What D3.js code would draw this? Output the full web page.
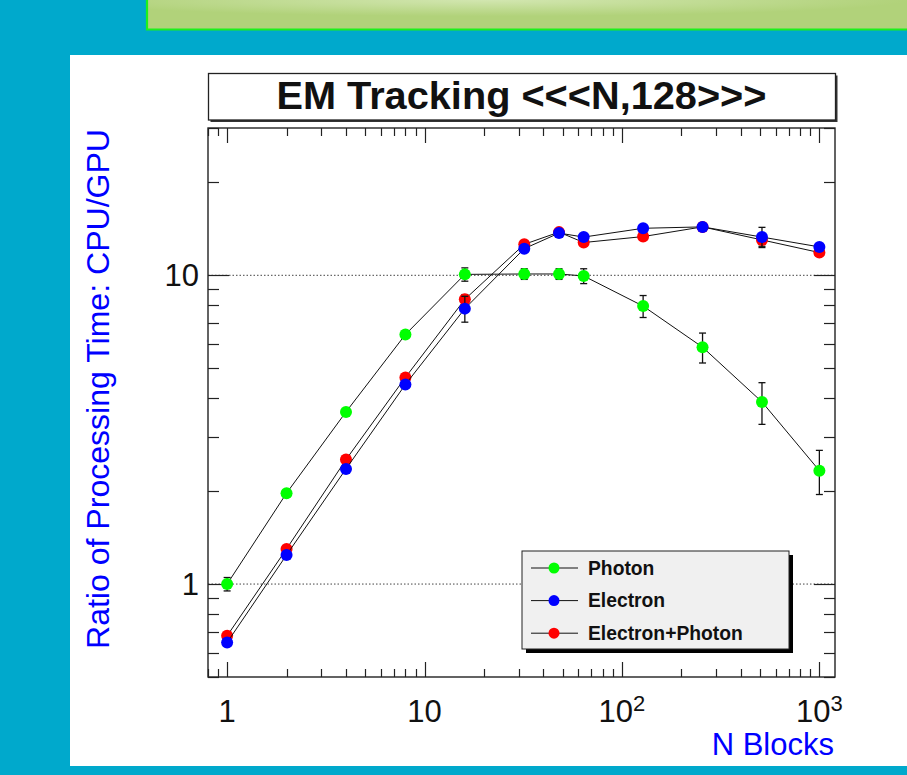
<!DOCTYPE html>
<html>
<head>
<meta charset="utf-8">
<script src="https://cdn.jsdelivr.net/npm/d3@7"></script>
<style>
  html, body { margin: 0; padding: 0; background: #00a9cc; }
  svg { display: block; }
  text { font-family: "Liberation Sans", Arial, Helvetica, sans-serif; }
</style>
</head>
<body>
<svg id="chart" width="907" height="775"></svg>
<script>
// ---------------- data ----------------
const nBlocks = [1, 2, 4, 8, 16, 32, 48, 64, 128, 256, 512, 1000];
const photon      = [1.0, 1.97, 3.61, 6.43, 10.07, 10.1, 10.1, 9.95, 7.95, 5.85, 3.89, 2.33];
const photonErr   = [0.05, 0.05, 0.08, 0.12, 0.5, 0.4, 0.4, 0.55, 0.65, 0.65, 0.6, 0.38];
const electron    = [0.647, 1.242, 2.36, 4.43, 7.8, 12.2, 13.7, 13.3, 14.2, 14.35, 13.3, 12.36];
const electronErr = [0.01, 0.02, 0.04, 0.1, 0.75, 0.2, 0.3, 0.3, 0.3, 0.3, 1.0, 0.3];
const eplusg      = [0.68, 1.30, 2.53, 4.67, 8.36, 12.6, 13.8, 12.77, 13.35, 14.35, 13.02, 11.85];
const eplusgErr   = [0.01, 0.02, 0.05, 0.1, 0.3, 0.2, 0.3, 0.3, 0.3, 0.3, 0.6, 0.3];
const seriesNames = ["Photon", "Electron", "Electron+Photon"];
const seriesColors = ["#00ff00", "#0000ff", "#ff0000"];
const xMajorTicks = [1, 10, 100, 1000];
const xTickLabels = [["1", ""], ["10", ""], ["10", "2"], ["10", "3"]];
const yMajorTicks = [1, 10];
const yTickLabels = ["1", "10"];
const chartTitle = "EM Tracking <<<N,128>>>";
const xTitle = "N Blocks";
const yTitle = "Ratio of Processing Time: CPU/GPU";

// ---------------- layout ----------------
const svg = d3.select("#chart");
const W = 907, H = 775;
const frame = { left: 208, right: 835, top: 128, bottom: 677 };
const x = d3.scaleLog().domain([0.8, 1200]).range([frame.left, frame.right]);
const y = d3.scaleLog().domain([0.5, 30]).range([frame.bottom, frame.top]);

// background
svg.append("rect").attr("width", W).attr("height", H).attr("fill", "#00a9cc");
const defs = svg.append("defs");
const grad = defs.append("radialGradient").attr("id", "barGrad")
  .attr("cx", "0.45").attr("cy", "0").attr("r", "0.55");
grad.append("stop").attr("offset", "0").attr("stop-color", "#d2e6b0");
grad.append("stop").attr("offset", "1").attr("stop-color", "#b1d27a");
svg.append("rect").attr("x", 147).attr("y", 0).attr("width", W - 147).attr("height", 29.5)
  .attr("fill", "url(#barGrad)");
svg.append("path").attr("d", `M147,0 V29.5 H${W}`).attr("fill", "none")
  .attr("stroke", "#1cf01c").attr("stroke-width", 2.2);
svg.append("rect").attr("x", 70).attr("y", 55).attr("width", W - 70).attr("height", 711)
  .attr("fill", "#ffffff");

// title box
svg.append("rect").attr("x", 210.5).attr("y", 75.5).attr("width", 627).attr("height", 46.5)
  .attr("fill", "#333");
svg.append("rect").attr("x", 208.5).attr("y", 73.5).attr("width", 627).attr("height", 46.5)
  .attr("fill", "#fff").attr("stroke", "#222").attr("stroke-width", 1.3);
svg.append("text").attr("x", (frame.left + frame.right) / 2).attr("y", 108.5)
  .attr("text-anchor", "middle").attr("font-size", 39.5).attr("font-weight", "bold")
  .attr("fill", "#111").attr("textLength", 490).attr("lengthAdjust", "spacingAndGlyphs")
  .text(chartTitle);

// grid lines (horizontal at major y ticks)
svg.append("g").selectAll("line").data(yMajorTicks).join("line")
  .attr("x1", frame.left).attr("x2", frame.right)
  .attr("y1", d => y(d)).attr("y2", d => y(d))
  .attr("stroke", "#444").attr("stroke-width", 1).attr("stroke-dasharray", "1.5,2");

// ticks
const xAll = x.ticks().filter(v => v >= 0.8 && v <= 1200);
const yAll = y.ticks().filter(v => v >= 0.5 && v <= 30);
const isMajor = v => Math.abs(Math.log10(v) - Math.round(Math.log10(v))) < 1e-9;
const tg = svg.append("g").attr("stroke", "#222").attr("stroke-width", 1.2);
xAll.forEach(v => {
  const len = isMajor(v) ? 15 : 8;
  const px = Math.round(x(v)) + 0.5;
  tg.append("line").attr("x1", px).attr("x2", px).attr("y1", frame.bottom).attr("y2", frame.bottom - len);
  tg.append("line").attr("x1", px).attr("x2", px).attr("y1", frame.top).attr("y2", frame.top + len);
});
yAll.forEach(v => {
  const len = isMajor(v) ? 21 : 11;
  const py = Math.round(y(v)) + 0.5;
  tg.append("line").attr("x1", frame.left).attr("x2", frame.left + len).attr("y1", py).attr("y2", py);
  tg.append("line").attr("x1", frame.right).attr("x2", frame.right - len).attr("y1", py).attr("y2", py);
});

// frame
svg.append("rect").attr("x", frame.left).attr("y", frame.top)
  .attr("width", frame.right - frame.left).attr("height", frame.bottom - frame.top)
  .attr("fill", "none").attr("stroke", "#222").attr("stroke-width", 1.4);

// x tick labels
xMajorTicks.forEach((v, i) => {
  const t = svg.append("text").attr("x", x(v)).attr("y", 722)
    .attr("text-anchor", "middle").attr("font-size", 31).attr("fill", "#111");
  t.append("tspan").text(xTickLabels[i][0]);
  if (xTickLabels[i][1]) {
    t.append("tspan").attr("dy", -11).attr("font-size", 22).text(xTickLabels[i][1]);
  }
});
// y tick labels
yMajorTicks.forEach((v, i) => {
  svg.append("text").attr("x", 199).attr("y", y(v) + 11)
    .attr("text-anchor", "end").attr("font-size", 31).attr("fill", "#111").text(yTickLabels[i]);
});

// axis titles
svg.append("text").attr("x", 834).attr("y", 755).attr("text-anchor", "end")
  .attr("font-size", 31).attr("fill", "#0000ff").text(xTitle);
svg.append("text").attr("transform", "translate(109,129) rotate(-90)")
  .attr("text-anchor", "end").attr("font-size", 31).attr("fill", "#0000ff")
  .attr("textLength", 520).attr("lengthAdjust", "spacingAndGlyphs").text(yTitle);

// ---------------- series ----------------
const seriesData = [
  { vals: photon, errs: photonErr, color: seriesColors[0] },
  { vals: eplusg, errs: eplusgErr, color: seriesColors[2] },
  { vals: electron, errs: electronErr, color: seriesColors[1] }
];
const line = d3.line().x(d => x(d.n)).y(d => y(d.v));
seriesData.forEach(s => {
  const pts = nBlocks.map((n, i) => ({ n, v: s.vals[i], e: s.errs[i] }));
  const g = svg.append("g");
  // error bars
  const eb = g.append("g").attr("stroke", "#111").attr("stroke-width", 1.3);
  pts.forEach(p => {
    const cx = x(p.n), y1 = y(p.v + p.e), y2 = y(p.v - p.e);
    eb.append("line").attr("x1", cx).attr("x2", cx).attr("y1", y1).attr("y2", y2);
    eb.append("line").attr("x1", cx - 3.5).attr("x2", cx + 3.5).attr("y1", y1).attr("y2", y1);
    eb.append("line").attr("x1", cx - 3.5).attr("x2", cx + 3.5).attr("y1", y2).attr("y2", y2);
  });
  g.append("path").datum(pts).attr("d", line).attr("fill", "none")
    .attr("stroke", "#111").attr("stroke-width", 1);
  g.selectAll("circle").data(pts).join("circle")
    .attr("cx", d => x(d.n)).attr("cy", d => y(d.v)).attr("r", 6)
    .attr("fill", s.color);
});

// ---------------- legend ----------------
const lg = { x: 522, y: 551, w: 267, h: 98 };
svg.append("rect").attr("x", lg.x + 4).attr("y", lg.y + 4).attr("width", lg.w).attr("height", lg.h)
  .attr("fill", "#000");
svg.append("rect").attr("x", lg.x).attr("y", lg.y).attr("width", lg.w).attr("height", lg.h)
  .attr("fill", "#f0f0f0").attr("stroke", "#222").attr("stroke-width", 1);
seriesNames.forEach((name, i) => {
  const cy = 568 + i * 32.6;
  svg.append("line").attr("x1", 531).attr("x2", 578).attr("y1", cy).attr("y2", cy)
    .attr("stroke", "#111").attr("stroke-width", 1);
  svg.append("circle").attr("cx", 554).attr("cy", cy).attr("r", 5.5).attr("fill", seriesColors[i]);
  svg.append("text").attr("x", 588).attr("y", cy + 6.8).attr("font-size", 19.3)
    .attr("font-weight", "bold").attr("fill", "#111").text(name);
});
</script>
</body>
</html>
